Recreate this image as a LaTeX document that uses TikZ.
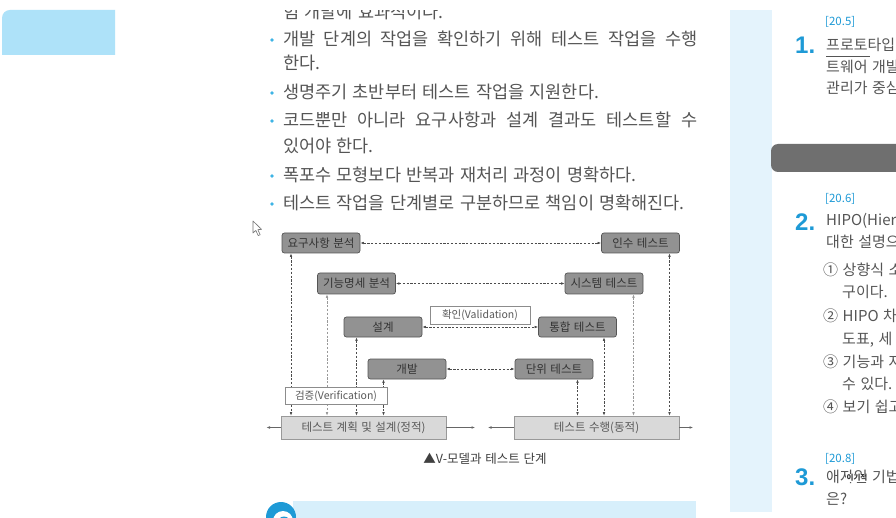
\documentclass[tikz,border=0pt]{standalone}
\usepackage{fontspec}
\setmainfont{Noto Sans CJK KR}[WordSpace=1.35]
\newfontfamily\numfont{Liberation Sans}
\usetikzlibrary{arrows.meta}
\definecolor{txt}{HTML}{555555}
\definecolor{bul}{HTML}{3DB4E5}
\definecolor{qblue}{HTML}{1E9AD6}
\definecolor{boxg}{HTML}{929292}
\definecolor{boxd}{HTML}{555555}
\definecolor{lightg}{HTML}{D9D9D9}
\definecolor{strip}{HTML}{E4F3FC}
\definecolor{tabc}{HTML}{AEE2F9}
\definecolor{barc}{HTML}{6F6F6F}
\definecolor{bandc}{HTML}{D7EFFB}
\tikzset{
  body/.style={anchor=base west, inner sep=0pt, text=txt, font=\fontsize{17.5}{17.5}\selectfont},
  rcol/.style={anchor=base west, inner sep=0pt, text=txt, font=\fontsize{15}{15}\selectfont},
  qref/.style={anchor=base west, inner sep=0pt, text=qblue, font=\fontsize{11.5}{11.5}\selectfont},
  qnum/.style={anchor=base west, inner sep=0pt, text=qblue, font=\numfont\bfseries\fontsize{24}{24}\selectfont},
  vbox/.style={draw=boxd, fill=boxg, rounded corners=2.5pt, line width=0.7pt, text=black!80,
    font=\fontsize{11.5}{11.5}\selectfont, inner sep=0pt, minimum height=20pt, minimum width=78pt,
    text height=9.2pt, text depth=1pt},
  gbox/.style={draw=black!40, fill=lightg, line width=0.6pt, minimum height=23pt, minimum width=165pt,
    font=\fontsize{11.5}{11.5}\selectfont, text=black!65, inner sep=0pt, text height=9.2pt, text depth=1pt},
  lbl/.style={draw=black!45, fill=white, line width=0.6pt, font=\fontsize{10.5}{10.5}\selectfont,
    text=black!65, inner sep=0pt, text height=8.4pt, text depth=1pt},
  link/.style={draw=black!70, line width=0.6pt, dash pattern=on 2.2pt off 1.6pt,
    {Latex[length=3.5pt,width=2.6pt]}-{Latex[length=3.5pt,width=2.6pt]}},
  linkl/.style={link, draw=black!40},
  side/.style={draw=black!60, line width=0.5pt, -{Latex[length=3.5pt,width=2.6pt]}},
  dotb/.style={circle, fill=bul, inner sep=0pt, minimum size=3.6pt},
}
\begin{document}
\begin{tikzpicture}[x=1pt,y=-1pt]
\clip (0,0) rectangle (896,518);
\fill[white] (0,0) rectangle (896,518);

% page decorations
\fill[tabc] (2,55) [rounded corners=8pt] -- (2,10) [sharp corners] -- (115,10) -- (115,55) -- cycle;
\fill[strip] (730,10) rectangle (772,512);
\fill[barc, rounded corners=7pt] (905,144) -- (771,144) -- (771,172) -- (905,172);
\fill[bandc] (293,501) rectangle (696,525);
\fill[qblue] (281,517) circle (15);
\fill[white] (283,521) circle (10);
\fill[qblue] (284,523) circle (6.5);

% main text
\begin{scope}
  \clip (230,11) rectangle (720,30);
  \node[body] (t0) at (283,18.3) {험 개발에 효과적이다.};
\end{scope}
\node[dotb] (d1) at (272,40) {};
\node[body] (t1) at (283,45.3) {\makebox[414pt][s]{개발 단계의 작업을 확인하기 위해 테스트 작업을 수행}};
\node[body] (t2) at (283,69.3) {한다.};
\node[dotb] (d2) at (272,93) {};
\node[body] (t3) at (283,98.3) {생명주기 초반부터 테스트 작업을 지원한다.};
\node[dotb] (d3) at (272,121) {};
\node[body] (t4) at (283,126.3) {\makebox[414pt][s]{코드뿐만 아니라 요구사항과 설계 결과도 테스트할 수}};
\node[body] (t5) at (283,152.3) {있어야 한다.};
\node[dotb] (d4) at (272,176) {};
\node[body] (t6) at (283,181.3) {폭포수 모형보다 반복과 재처리 과정이 명확하다.};
\node[dotb] (d5) at (272,204) {};
\node[body] (t7) at (283,209.3) {테스트 작업을 단계별로 구분하므로 책임이 명확해진다.};

% mouse cursor
\filldraw[fill=white, draw=black!55, line width=0.6pt, line join=round]
  (253,221) -- (253,233) -- (255.8,230.4) -- (258.2,235.6) -- (260.2,234.7) -- (257.8,229.6) -- (261.6,229.4) -- cycle;

% diagram boxes
\node[vbox] (req)   at (321,243)   {요구사항 분석};
\node[vbox] (acc)   at (640.5,243) {인수 테스트};
\node[vbox, minimum height=21pt] (func) at (356.5,283.5) {기능명세 분석};
\node[vbox, minimum height=21pt] (sys)  at (604,283.5)   {시스템 테스트};
\node[vbox] (des)   at (383,327)   {설계};
\node[vbox] (integ) at (577.5,327) {통합 테스트};
\node[vbox] (dev)   at (407,369)   {개발};
\node[vbox] (unit)  at (554,369)   {단위 테스트};
\node[gbox] (plan)  at (363.5,427.5) {테스트 계획 및 설계(정적)};
\node[gbox] (exec)  at (596.5,427.5) {테스트 수행(동적)};

% horizontal links
\draw[link] (req) -- (acc);
\draw[link] (func) -- (sys);
\draw[link] (des) -- (integ);
\draw[link] (dev) -- (unit);

% vertical links
\draw[link]  ([xshift=-30pt]req.south)    -- ([xshift=-30pt]req.south |- plan.north);
\draw[linkl] ([xshift=-29.5pt]func.south) -- ([xshift=-29.5pt]func.south |- plan.north);
\draw[link]  ([xshift=-26.5pt]des.south)  -- ([xshift=-26.5pt]des.south |- plan.north);
\draw[link]  ([xshift=-23.5pt]dev.south)  -- ([xshift=-23.5pt]dev.south |- plan.north);
\draw[link]  ([xshift=23.5pt]unit.south)  -- ([xshift=23.5pt]unit.south |- exec.north);
\draw[link]  ([xshift=26.5pt]integ.south) -- ([xshift=26.5pt]integ.south |- exec.north);
\draw[linkl] ([xshift=29.5pt]sys.south)   -- ([xshift=29.5pt]sys.south |- exec.north);
\draw[link]  ([xshift=29pt]acc.south)     -- ([xshift=29pt]acc.south |- exec.north);

% side arrows of the bottom bars
\coordinate (pl) at (266.5,427.5);
\coordinate (pr) at (475,427.5);
\coordinate (el) at (488,427.5);
\coordinate (er) at (693,427.5);
\draw[side] (plan.west) -- (pl);
\draw[side] (plan.east) -- (pr);
\draw[side] (exec.west) -- (el);
\draw[side] (exec.east) -- (er);

% labels
\node[lbl, minimum width=100pt, minimum height=18pt] (valid) at (480,315) {확인(Validation)};
\node[lbl, minimum width=102pt, minimum height=17pt] (verif) at (336,396) {검증(Verification)};

% caption
\node[inner sep=0pt, text=black!75, font=\fontsize{12.5}{12.5}\selectfont] (cap) at (485,459) {▲V-모델과 테스트 단계};

% right column
\node[qref] (r1) at (825,26) {[20.5]};
\node[qnum] (n1) at (795,53.6) {1.};
\node[rcol] (q1a) at (826,50.4) {프로토타입};
\draw[txt, line width=0.6pt] (826,56) -- (870,56);
\node[rcol] (q1b) at (826,72.4) {트웨어 개발};
\node[rcol] (q1c) at (826,93.4) {관리가 중심};

\node[qref] (r2) at (825,203) {[20.6]};
\node[qnum] (n2) at (795,230.6) {2.};
\node[rcol] (q2a) at (826,226) {HIPO(Hiera};
\node[rcol] (q2b) at (826,247.5) {대한 설명으};
\node[rcol] (o1) at (823,275.4) {① 상향식 소};
\node[rcol] (o1b) at (842,297.4) {구이다.};
\node[rcol] (o2) at (823,321.4) {② HIPO 차};
\node[rcol] (o2b) at (842,344.4) {도표, 세};
\node[rcol] (o3) at (823,367.4) {③ 기능과 자};
\node[rcol] (o3b) at (842,389.4) {수 있다.};
\node[rcol] (o4) at (823,412.4) {④ 보기 쉽고};

\node[qref] (r3) at (825,462) {[20.8]};
\node[qnum] (n3) at (795,485.6) {3.};
\node[rcol] (q3a) at (826,482.4) {애자일 기법};
\node[rcol] (q3b) at (826,504.4) {은?};
\node[inner sep=0.5pt, fill=white, text=black!80, font=\bfseries\fontsize{7.5}{7.5}\selectfont] (wm) at (857,478) {이기적};
\end{tikzpicture}
\end{document}
